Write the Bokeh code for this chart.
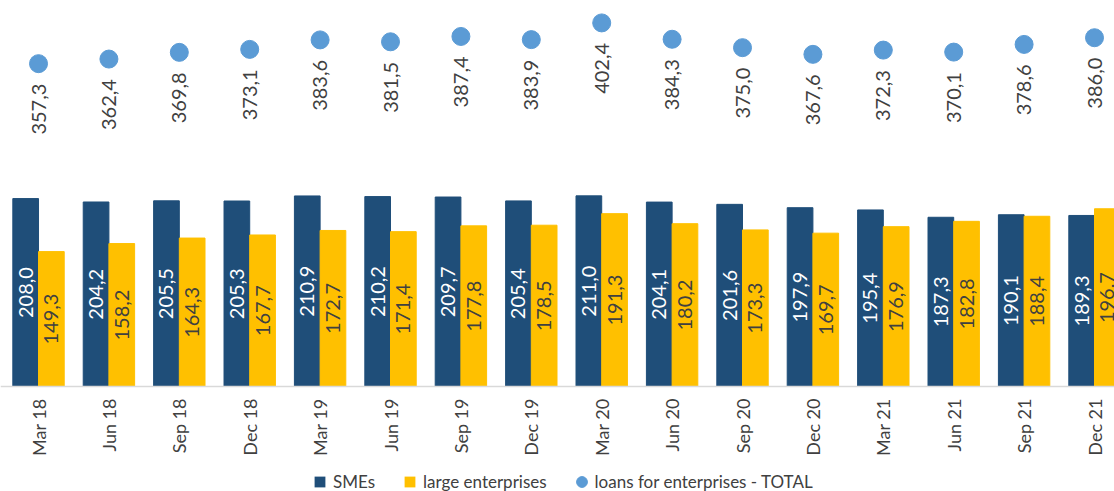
import math
from bokeh.plotting import figure
from bokeh.models import Range1d, ColumnDataSource, Legend, LegendItem, Span
from bokeh.core.properties import value
from bokeh.embed import file_html
from bokeh.resources import INLINE

quarters = ["Mar 18", "Jun 18", "Sep 18", "Dec 18", "Mar 19", "Jun 19", "Sep 19", "Dec 19",
            "Mar 20", "Jun 20", "Sep 20", "Dec 20", "Mar 21", "Jun 21", "Sep 21", "Dec 21"]
smes = [208.0, 204.2, 205.5, 205.3, 210.9, 210.2, 209.7, 205.4,
        211.0, 204.1, 201.6, 197.9, 195.4, 187.3, 190.1, 189.3]
large = [149.3, 158.2, 164.3, 167.7, 172.7, 171.4, 177.8, 178.5,
         191.3, 180.2, 173.3, 169.7, 176.9, 182.8, 188.4, 196.7]
total = [357.3, 362.4, 369.8, 373.1, 383.6, 381.5, 387.4, 383.9,
         402.4, 384.3, 375.0, 367.6, 372.3, 370.1, 378.6, 386.0]

C_SME = "#1F4E79"
C_LARGE = "#FFC000"
C_TOTAL = "#5B9BD5"
C_TEXT = "#404040"
FONT = "Lato"

def fmt(v):
    return f"{v:.1f}".replace(".", ",")

n = len(quarters)
idx = list(range(n))
off = 0.1825
bw = 0.365

src = ColumnDataSource(dict(
    x=idx,
    xs=[i - off for i in idx],
    xl=[i + off for i in idx],
    zero=[0] * n,
    quarter=quarters,
    smes=smes, large=large, total=total,
    smes_mid=[v / 2 for v in smes],
    large_mid=[v / 2 for v in large],
    smes_lbl=[fmt(v) for v in smes],
    large_lbl=[fmt(v) for v in large],
    total_lbl=[fmt(v) for v in total],
))

# frame covers the whole picture; value 0 sits 386 px from the top
p = figure(frame_width=1114, frame_height=491, output_backend="svg", toolbar_location=None,
           x_range=Range1d(-0.54, 15.284), y_range=Range1d(-116.2, 427.2),
           min_border_left=0, min_border_right=0, min_border_top=0, min_border_bottom=0)
p.outline_line_color = None
p.xgrid.visible = False
p.ygrid.visible = False
p.xaxis.visible = False
p.yaxis.visible = False

p.vbar(x="xs", top="smes", width=bw, source=src, fill_color=C_SME, line_color=C_SME)
p.vbar(x="xl", top="large", width=bw, source=src, fill_color=C_LARGE, line_color=C_LARGE)
r3 = p.scatter(x="x", y="total", size=18, source=src, fill_color=C_TOTAL, line_color=C_TOTAL)

# category axis line
p.add_layout(Span(location=0, dimension="width", line_color="#D9D9D9", line_width=1.5))

# legend proxies (zero-size markers at the bar tops)
r1 = p.scatter(x="xs", y="smes", size=0, source=src, marker="square",
               fill_color=C_SME, line_color=None)
r2 = p.scatter(x="xl", y="large", size=0, source=src, marker="square",
               fill_color=C_LARGE, line_color=None)

p.text(x="xs", y="smes_mid", text="smes_lbl", source=src, angle=math.pi / 2,
       text_align="center", text_baseline="middle", text_color="white",
       text_font=value(FONT), text_font_size="20px")
p.text(x="xl", y="large_mid", text="large_lbl", source=src, angle=math.pi / 2,
       text_align="center", text_baseline="middle", text_color=C_TEXT,
       text_font=value(FONT), text_font_size="20px")
p.text(x="x", y="total", text="total_lbl", source=src, angle=math.pi / 2,
       text_align="right", text_baseline="middle", text_color=C_TEXT, y_offset=20,
       text_font=value(FONT), text_font_size="20px")

# category tick labels
p.text(x="x", y="zero", text="quarter", source=src, angle=math.pi / 2,
       text_align="right", text_baseline="middle", text_color=C_TEXT, y_offset=12,
       text_font=value(FONT), text_font_size="18px")

legend = Legend(items=[LegendItem(label="SMEs", renderers=[r1]),
                       LegendItem(label="large enterprises", renderers=[r2]),
                       LegendItem(label="loans for enterprises - TOTAL", renderers=[r3])],
                orientation="horizontal", location=(306, -4),
                glyph_width=27, glyph_height=27, label_standoff=-7, spacing=21,
                padding=0, margin=0, border_line_color=None, background_fill_alpha=0,
                label_text_font=FONT, label_text_font_size="17px", label_text_color=C_TEXT)
p.add_layout(legend)

open("out.html", "w").write(file_html(p, INLINE))
